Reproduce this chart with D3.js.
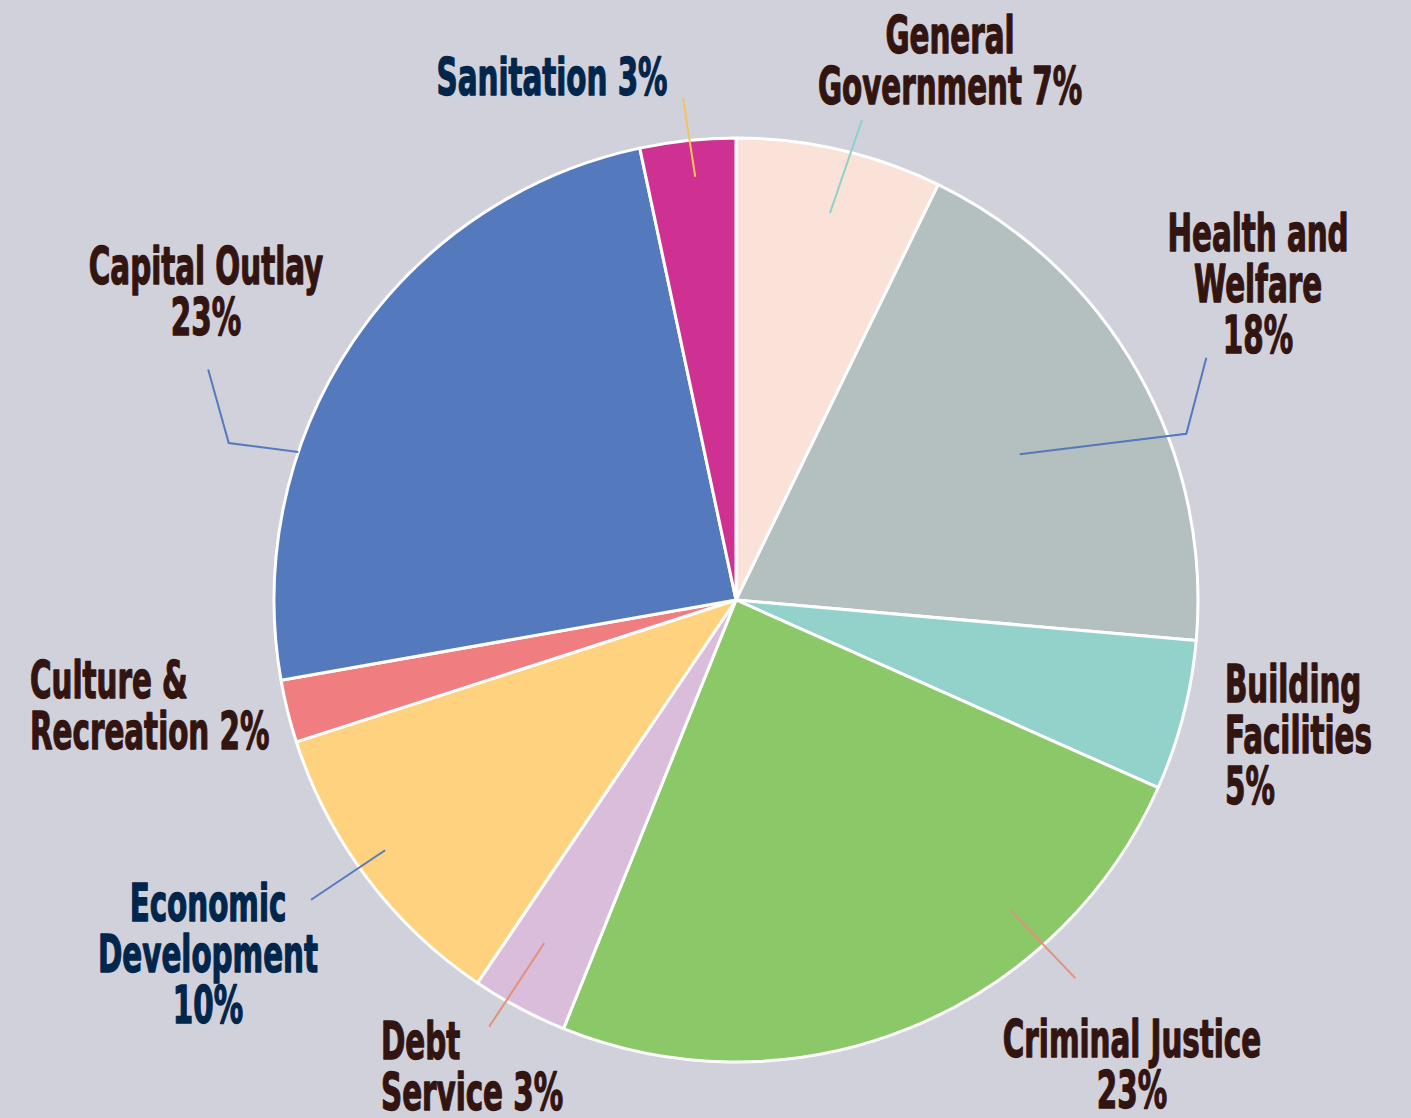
<!DOCTYPE html>
<html>
<head>
<meta charset="utf-8">
<script src="https://cdn.jsdelivr.net/npm/d3@7"></script>
<style>
    html, body { margin: 0; padding: 0; background: #D1D1DB; }
    .label text { font-family: "Liberation Sans Narrow", "DejaVu Sans Condensed", sans-serif; font-weight: bold; font-size: 51px; }
</style>
</head>
<body>
<div id="chart"></div>
<script>
// budget shares, clockwise from 12 o'clock
let categories = ["General Government", "Health and Welfare", "Building Facilities", "Criminal Justice",
    "Debt Service", "Economic Development", "Culture & Recreation", "Capital Outlay", "Sanitation"];
let shares = [7.21, 19.19, 5.26, 24.43, 3.36, 10.58, 2.19, 24.44, 3.34];
let shareLabels = ["7%", "18%", "5%", "23%", "3%", "10%", "2%", "23%", "3%"];
let sliceColors = ["#FBE2D8", "#B4BFC0", "#93D2CA", "#8AC868", "#D9BDDB", "#FFD27F", "#F07D7F", "#5579BD", "#CE3192"];

// label text lines (percent goes where {p} appears)
let labelLines = [
    ["General", "Government {p}"],
    ["Health and", "Welfare", "{p}"],
    ["Building", "Facilities", "{p}"],
    ["Criminal Justice", "{p}"],
    ["Debt", "Service {p}"],
    ["Economic", "Development", "{p}"],
    ["Culture &", "Recreation {p}"],
    ["Capital Outlay", "{p}"],
    ["Sanitation {p}"]
];

// layout for labels: x, first baseline, anchor, colour
let labelLayout = [
    {x: 950, y: 53, anchor: "middle", color: "#321410"},
    {x: 1258, y: 251, anchor: "middle", color: "#321410"},
    {x: 1225, y: 702, anchor: "start", color: "#321410"},
    {x: 1132, y: 1057, anchor: "middle", color: "#321410"},
    {x: 381, y: 1059, anchor: "start", color: "#321410"},
    {x: 208, y: 921, anchor: "middle", color: "#00264B"},
    {x: 30, y: 698, anchor: "start", color: "#321410"},
    {x: 206, y: 284, anchor: "middle", color: "#321410"},
    {x: 552, y: 95, anchor: "middle", color: "#00264B"}
];

// leader lines as [angle in degrees, radius] from the pie centre
let leaders = [
    {pts: [[13.65, 398], [14.7, 496]], color: "#8ED1C8"},
    {pts: [[62.8, 319], [69.75, 480], [62.76, 529]], color: "#5579BD"},
    {pts: [[138.5, 414], [138.1, 508]], color: "#E3907C"},
    {pts: [[209.2, 393], [210.05, 493]], color: "#E3907C"},
    {pts: [[234.5, 431], [234.8, 520]], color: "#5579BD"},
    {pts: [[288.67, 462], [287.2, 531], [293.6, 576]], color: "#5579BD"},
    {pts: [[354.5, 425], [353.97, 505]], color: "#F2C55C"}
];

let width = 1411, height = 1118;
let cx = 736, cy = 600, radius = 462;
let lineGap = 51;
let squeeze = 0.64;   // the installed fonts are much wider than the original condensed face

let svg = d3.select("#chart").append("svg")
    .attr("width", width)
    .attr("height", height);

svg.append("rect")
    .attr("width", width)
    .attr("height", height)
    .attr("fill", "#D1D1DB");

let g = svg.append("g")
    .attr("transform", `translate(${cx},${cy})`);

let pie = d3.pie().sort(null).value(d => d);
let arc = d3.arc().innerRadius(0).outerRadius(radius);

g.selectAll("path.slice")
    .data(pie(shares))
    .enter()
    .append("path")
    .attr("class", "slice")
    .attr("d", arc)
    .attr("fill", (d, i) => sliceColors[i])
    .attr("stroke", "#ffffff")
    .attr("stroke-width", 3)
    .attr("stroke-linejoin", "round");

// leader lines
let line = d3.line()
    .x(p => d3.pointRadial(p[0] * Math.PI / 180, p[1])[0])
    .y(p => d3.pointRadial(p[0] * Math.PI / 180, p[1])[1]);

g.selectAll("path.leader")
    .data(leaders)
    .enter()
    .append("path")
    .attr("class", "leader")
    .attr("d", d => line(d.pts))
    .attr("fill", "none")
    .attr("stroke", d => d.color)
    .attr("stroke-width", 2);

// labels
let labels = svg.selectAll("g.label")
    .data(categories)
    .enter()
    .append("g")
    .attr("class", "label")
    .attr("transform", (d, i) => `translate(${labelLayout[i].x},${labelLayout[i].y}) scale(${squeeze},1)`);

labels.append("text")
    .attr("text-anchor", (d, i) => labelLayout[i].anchor)
    .attr("fill", (d, i) => labelLayout[i].color)
    .attr("stroke", (d, i) => labelLayout[i].color)
    .attr("stroke-width", 1.3)   // thicken to look like the heavy original face
    .attr("stroke-linejoin", "round")
    .each(function (d, i) {
        let t = d3.select(this);
        labelLines[i].forEach((ln, j) => {
            t.append("tspan")
                .attr("x", 0)
                .attr("y", j * lineGap)
                .text(ln.replace("{p}", shareLabels[i]));
        });
    });
</script>
</body>
</html>
